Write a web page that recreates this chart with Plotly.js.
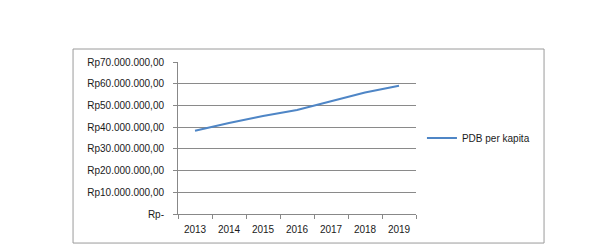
<!DOCTYPE html>
<html>
<head>
<meta charset="utf-8">
<script src="https://cdn.plot.ly/plotly-3.0.1.min.js"></script>
<style>html,body{margin:0;padding:0;background:#fff;}#chart{width:592px;height:249px;}</style>
</head>
<body>
<div id="chart"></div>
<script>
const years = ["2013", "2014", "2015", "2016", "2017", "2018", "2019"];
const pdbPerKapita = [38370000, 41920000, 45120000, 47940000, 51890000, 55990000, 59100000];
const seriesName = "PDB per kapita";
const yTickVals = [0, 10000000, 20000000, 30000000, 40000000, 50000000, 60000000, 70000000];
const yTickText = ["Rp-", "Rp10.000.000,00", "Rp20.000.000,00", "Rp30.000.000,00", "Rp40.000.000,00", "Rp50.000.000,00", "Rp60.000.000,00", "Rp70.000.000,00"];

const font = {family: "Liberation Sans, Arial, sans-serif", size: 10, color: "#1a1a1a"};
const data = [{
  type: "scatter", mode: "lines",
  x: years, y: pdbPerKapita, name: seriesName,
  line: {color: "#4f86c6", width: 2},
  showlegend: true
}];
const layout = {
  width: 592, height: 249,
  margin: {l: 178, r: 176, t: 62, b: 35, pad: 0},
  paper_bgcolor: "#fff", plot_bgcolor: "#fff",
  font: font,
  showlegend: true,
  legend: {x: 1.025, y: 0.5, xanchor: "left", yanchor: "middle", font: font, bgcolor: "rgba(0,0,0,0)", itemwidth: 30},
  xaxis: {
    type: "category", tickson: "boundaries", range: [-0.5, 6.5],
    ticks: "outside", ticklen: 4, tickcolor: "#888", tickwidth: 1,
    showline: true, linecolor: "#888", linewidth: 1,
    showgrid: false, zeroline: false, fixedrange: true,
    ticklabelstandoff: 6,
    tickfont: font
  },
  yaxis: {
    range: [0, 70000000],
    tickvals: yTickVals, ticktext: yTickText,
    ticks: "outside", ticklen: 4, tickcolor: "#888", tickwidth: 1,
    showline: true, linecolor: "#888", linewidth: 1,
    showgrid: true, gridcolor: "#8a8a8a", gridwidth: 1,
    zeroline: false, fixedrange: true, ticklabelstandoff: 7,
    tickfont: font
  },
  shapes: [{
    type: "rect", xref: "paper", yref: "paper",
    x0: -0.441, x1: 1.538, y0: -0.191, y1: 1.0855,
    line: {color: "#9a9a9a", width: 1}, fillcolor: "rgba(0,0,0,0)", layer: "below"
  }]
};
Plotly.newPlot("chart", data, layout, {displayModeBar: false, staticPlot: true});
</script>
</body>
</html>
